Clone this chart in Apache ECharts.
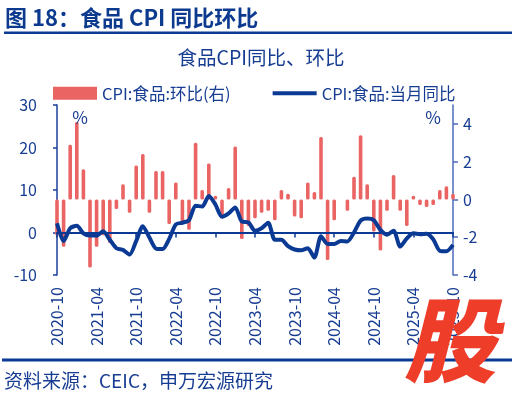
<!DOCTYPE html>
<html>
<head>
<meta charset="utf-8">
<script src="https://cdn.jsdelivr.net/npm/echarts@6/dist/echarts.min.js"></script>
<style>
  html, body { margin: 0; padding: 0; background: #ffffff; }
  #chart { width: 520px; height: 398px; }
</style>
</head>
<body>
<div id="chart"></div>
<script>
const months = [
  '2020-10', '2020-11', '2020-12',
  '2021-01', '2021-02', '2021-03', '2021-04', '2021-05', '2021-06', '2021-07', '2021-08', '2021-09', '2021-10', '2021-11', '2021-12',
  '2022-01', '2022-02', '2022-03', '2022-04', '2022-05', '2022-06', '2022-07', '2022-08', '2022-09', '2022-10', '2022-11', '2022-12',
  '2023-01', '2023-02', '2023-03', '2023-04', '2023-05', '2023-06', '2023-07', '2023-08', '2023-09', '2023-10', '2023-11', '2023-12',
  '2024-01', '2024-02', '2024-03', '2024-04', '2024-05', '2024-06', '2024-07', '2024-08', '2024-09', '2024-10', '2024-11', '2024-12',
  '2025-01', '2025-02', '2025-03', '2025-04', '2025-05', '2025-06', '2025-07', '2025-08', '2025-09', '2025-10',
]

// CPI:食品:环比 (right axis, %)
const foodMom = [
  -1.9, -2.5, 2.9,
  4.1, 1.6, -3.6, -2.5, -1.9, -2.3, -0.5, 0.8, -0.7, 1.8, 2.4, -0.7,
  1.5, 1.5, -1.3, 0.9, -1.3, -1.6, 3.0, 0.5, 1.9, 0.2, -1.0, 0.6,
  2.8, -2.1, -1.4, -1.0, -0.7, -0.6, -1.1, 0.5, 0.3, -0.9, -1.0, 0.9,
  0.4, 3.3, -3.2, -1.1, 0.0, -0.6, 1.2, 3.4, 0.8, -1.7, -2.7, -0.6,
  1.3, -0.6, -1.4, 0.2, -0.3, -0.4, -0.3, 0.5, 0.7, 0.3,
]

// CPI:食品:当月同比 (left axis, %)
const foodYoy = [
  2.2, -2.0, 1.0,
  1.6, -0.2, -0.7, -0.7, 0.3, -1.7, -3.7, -4.1, -5.2, -2.0, 1.5, -1.2,
  -3.8, -3.9, -1.5, 1.9, 2.3, 2.9, 6.3, 6.1, 8.6, 6.6, 3.7, 4.5,
  5.9, 2.6, 2.4, 0.4, 1.0, 2.3, -1.7, -1.7, -3.2, -4.0, -4.2, -3.7,
  -5.9, -0.9, -2.7, -2.7, -2.0, -2.1, 0.0, 2.8, 3.3, 2.9, 0.6, -0.5,
  0.4, -3.3, -1.4, -0.2, -0.4, -0.3, -1.6, -4.3, -4.4, -2.9,
]

const leftTicks = [-10, 0, 10, 20, 30]
const rightTicks = [-4, -2, 0, 2, 4]

const fontFamily = '"Noto Sans CJK SC", "Noto Sans", sans-serif'
const navy = '#0b3a94'
const textBlue = '#173d92'
const barRed = '#eb6464'

function buildGraphics() {
  const text = (x, y, str, size, extra) => ({
    type: 'text',
    z: 10,
    style: Object.assign({
      x, y, text: str,
      fill: textBlue,
      font: `${size}px ${fontFamily}`,
      textAlign: 'left', align: 'left',
      textVerticalAlign: 'middle', verticalAlign: 'middle',
    }, extra || {}),
  })
  return [
    text(5, 18, '图 18：食品 CPI 同比环比', 22, { font: `bold 22px ${fontFamily}`, fill: '#0c3a8e' }),
    { type: 'rect', shape: { x: 4, y: 31.5, width: 508, height: 2.5 }, style: { fill: navy } },
    text(261, 58, '食品CPI同比、环比', 19.5, { textAlign: 'center', align: 'center' }),
    text(80, 118, '%', 17, { textAlign: 'center', align: 'center' }),
    text(433, 118, '%', 17, { textAlign: 'center', align: 'center' }),
    { type: 'rect', shape: { x: 2, y: 358.5, width: 510, height: 3 }, style: { fill: navy } },
    text(4, 381, '资料来源：CEIC，申万宏源研究', 19),
    text(450, 340, '股', 92, {
      font: `italic 900 92px ${fontFamily}`,
      fill: '#ee3d29',
      textAlign: 'center', align: 'center',
    }),
  ]
}

function buildOption() {
  return {
    animation: false,
    backgroundColor: '#ffffff',
    textStyle: { fontFamily },
    legend: {
      left: 53,
      top: 85,
      padding: 0,
      itemWidth: 44,
      itemHeight: 13,
      itemGap: 42,
      textStyle: { color: textBlue, fontSize: 16.5, fontFamily },
      data: [
        { name: 'CPI:食品:环比(右)', icon: 'rect' },
        { name: 'CPI:食品:当月同比', icon: 'path://M0,0 L44,0 L44,4 L0,4 Z' },
      ],
    },
    grid: { left: 57, right: 67, top: 105, bottom: 123 },
    xAxis: {
      type: 'category',
      data: months,
      boundaryGap: false,
      z: 2,
      axisLine: { onZero: true, lineStyle: { color: navy, width: 2 } },
      axisTick: { show: true, interval: 5, length: 5, lineStyle: { color: navy, width: 1.5 } },
      // labels stay at the grid bottom, the line sits on zero
      axisLabel: { interval: 5, rotate: 90, margin: 12, fontSize: 16, color: textBlue, fontFamily },
      splitLine: { show: false },
    },
    yAxis: [
      {
        type: 'value',
        min: leftTicks[0],
        max: leftTicks[leftTicks.length - 1],
        interval: 10,
        axisLine: { show: true, lineStyle: { color: '#1d3f9a', width: 1.5 } },
        axisTick: { show: true, length: 4, lineStyle: { color: '#1d3f9a', width: 1.5 } },
        axisLabel: { margin: 20, fontSize: 16, color: textBlue, fontFamily },
        splitLine: { show: false },
      },
      {
        type: 'value',
        position: 'right',
        min: rightTicks[0],
        max: 5,
        interval: 2,
        axisLine: { show: true, lineStyle: { color: '#4d6bbd', width: 1.5 } },
        axisTick: { show: true, length: 5, customValues: rightTicks, lineStyle: { color: '#4d6bbd', width: 1.5 } },
        axisLabel: { margin: 10, fontSize: 16, color: textBlue, fontFamily, customValues: rightTicks },
        splitLine: { show: false },
      },
    ],
    series: [
      {
        name: 'CPI:食品:环比(右)',
        type: 'bar',
        yAxisIndex: 1,
        barWidth: 3.6,
        z: 1,
        itemStyle: { color: barRed, borderRadius: 1.5 },
        data: foodMom,
      },
      {
        name: 'CPI:食品:当月同比',
        type: 'line',
        yAxisIndex: 0,
        symbol: 'none',
        smooth: 0.25,
        z: 3,
        lineStyle: { color: navy, width: 4 },
        itemStyle: { color: navy },
        data: foodYoy,
      },
    ],
    graphic: buildGraphics(),
  }
}

const chart = echarts.init(document.getElementById('chart'), null, { renderer: 'canvas' })
chart.setOption(buildOption())
window.addEventListener('resize', () => chart.resize())
</script>
</body>
</html>
